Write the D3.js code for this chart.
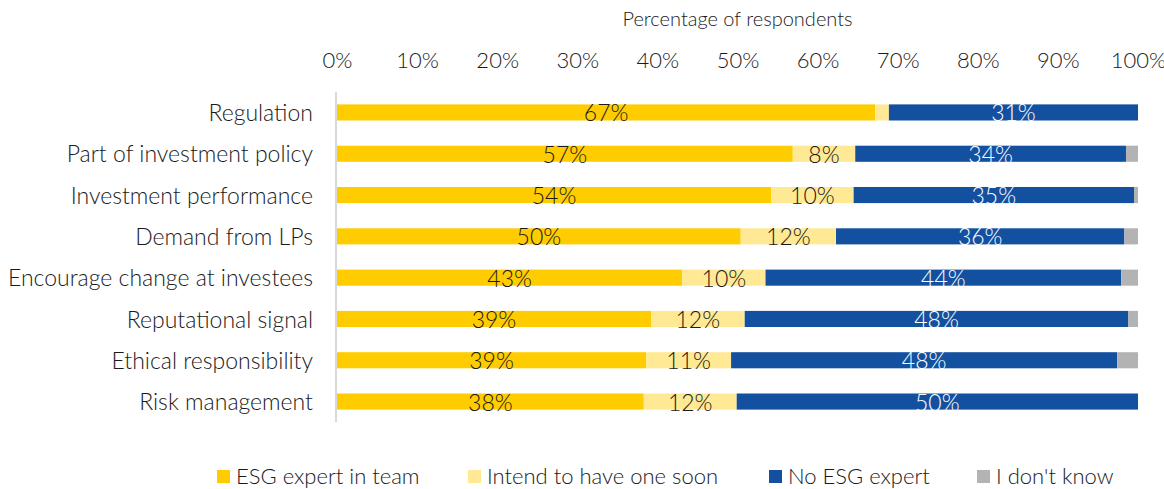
<!DOCTYPE html>
<html>
<head>
<meta charset="utf-8">
<script src="https://cdn.jsdelivr.net/npm/d3@7"></script>
<style>
	body { margin: 0; background: #fff; }
	svg { display: block; font-family: "Lato", "DejaVu Sans", sans-serif; font-weight: 300; }
</style>
</head>
<body>
<div id="chart"></div>
<script>
///////////////////////////////////////////////////////////////////////////
///////////////////////////// The data ////////////////////////////////////
///////////////////////////////////////////////////////////////////////////

var categories = ["Regulation", "Part of investment policy", "Investment performance", "Demand from LPs",
	"Encourage change at investees", "Reputational signal", "Ethical responsibility", "Risk management"];
var seriesNames = ["ESG expert in team", "Intend to have one soon", "No ESG expert", "I don't know"];
var expertInTeam = [67.2, 56.9, 54.2, 50.4, 43.1, 39.2, 38.6, 38.3];
var intendSoon   = [1.7, 7.8, 10.3, 11.9, 10.4, 11.7, 10.6, 11.6];
var noExpert     = [31.1, 33.8, 35.0, 36.0, 44.4, 47.9, 48.2, 50.1];
var dontKnow     = [0, 1.5, 0.5, 1.7, 2.1, 1.2, 2.6, 0];
var tickValues   = [0, 10, 20, 30, 40, 50, 60, 70, 80, 90, 100];

var colors = ["#FFCC00", "#FFE994", "#1351A0", "#B3B3B3"],
	labelColors = ["#1a1a1a", "#1a1a1a", "#ffffff", "#1a1a1a"];

///////////////////////////////////////////////////////////////////////////
///////////////////////////// Set up ///////////////////////////////////////
///////////////////////////////////////////////////////////////////////////

var width = 1164, height = 489;
var margin = {left: 337, top: 92, right: 26, bottom: 67};

var svg = d3.select("#chart").append("svg")
	.attr("width", width)
	.attr("height", height);

var x = d3.scaleLinear().domain([0, 100]).range([margin.left, width - margin.right]);
var y = d3.scaleBand().domain(categories)
	.range([margin.top, height - margin.bottom])
	.paddingInner(0.61).paddingOuter(0.3);

var table = categories.map(function(c, i) {
	return {cat: c, s0: expertInTeam[i], s1: intendSoon[i], s2: noExpert[i], s3: dontKnow[i]};
});
var stack = d3.stack().keys(["s0", "s1", "s2", "s3"])(table);

//Axis title
svg.append("text")
	.attr("x", (x(0) + x(100)) / 2)
	.attr("y", 26)
	.style("text-anchor", "middle")
	.attr("fill", "#1a1a1a")
	.style("font-size", "20px")
	.text("Percentage of respondents");

//Top axis (the 100% label runs off the right edge, as in the original)
var axisTop = svg.append("g")
	.attr("transform", "translate(0," + 71 + ")")
	.call(d3.axisTop(x).tickValues(tickValues).tickSize(0).tickFormat(function(d) { return d + "%"; }));
axisTop.attr("font-family", null).attr("font-size", null);
axisTop.select(".domain").remove();
axisTop.selectAll("text")
	.attr("fill", "#1a1a1a")
	.style("font-size", "22px");

//Left axis line
svg.append("line")
	.attr("x1", x(0) - 1).attr("x2", x(0) - 1)
	.attr("y1", margin.top).attr("y2", height - margin.bottom)
	.style("stroke", "#D9D9D9")
	.style("stroke-width", 2);

//Category labels
var axisLeft = svg.append("g")
	.attr("transform", "translate(" + (margin.left - 24) + ",0)")
	.call(d3.axisLeft(y).tickSize(0).tickPadding(0));
axisLeft.attr("font-family", null).attr("font-size", null);
axisLeft.select(".domain").remove();
axisLeft.selectAll("text")
	.attr("fill", "#1a1a1a")
	.attr("dy", "0.38em")
	.style("font-size", "23px");

///////////////////////////////////////////////////////////////////////////
///////////////////////////// Bars /////////////////////////////////////////
///////////////////////////////////////////////////////////////////////////

var layers = svg.selectAll(".layer")
	.data(stack)
	.enter().append("g")
	.attr("class", "layer")
	.attr("fill", function(d, i) { return colors[i]; });

layers.selectAll("rect")
	.data(function(d) { return d; })
	.enter().append("rect")
	.attr("x", function(d) { return x(d[0]); })
	.attr("width", function(d) { return x(d[1]) - x(d[0]); })
	.attr("y", function(d) { return y(d.data.cat); })
	.attr("height", y.bandwidth());

layers.each(function(layer, li) {
	d3.select(this).selectAll(".barLabel")
		.data(layer.filter(function(d) { return d[1] - d[0] >= 5; }))
		.enter().append("text")
		.attr("class", "barLabel")
		.attr("x", function(d) { return (x(d[0]) + x(d[1])) / 2; })
		.attr("y", function(d) { return y(d.data.cat) + y.bandwidth() / 2 + 9; })
		.style("text-anchor", "middle")
		.style("font-size", "23px")
		.attr("fill", labelColors[li])
		.text(function(d) { return Math.round(d[1] - d[0]) + "%"; });
});

///////////////////////////////////////////////////////////////////////////
///////////////////////////// Legend ///////////////////////////////////////
///////////////////////////////////////////////////////////////////////////

var legendX = [217, 468, 769, 977];
var legend = svg.selectAll(".legend")
	.data(seriesNames)
	.enter().append("g")
	.attr("class", "legend")
	.attr("transform", function(d, i) { return "translate(" + legendX[i] + "," + 470 + ")"; });
legend.append("rect")
	.attr("x", 0).attr("y", 0)
	.attr("width", 13).attr("height", 13)
	.attr("fill", function(d, i) { return colors[i]; });
legend.append("text")
	.attr("x", 19)
	.attr("y", 14)
	.attr("fill", "#1a1a1a")
	.style("font-size", "22px")
	.text(function(d) { return d; });
</script>
</body>
</html>
